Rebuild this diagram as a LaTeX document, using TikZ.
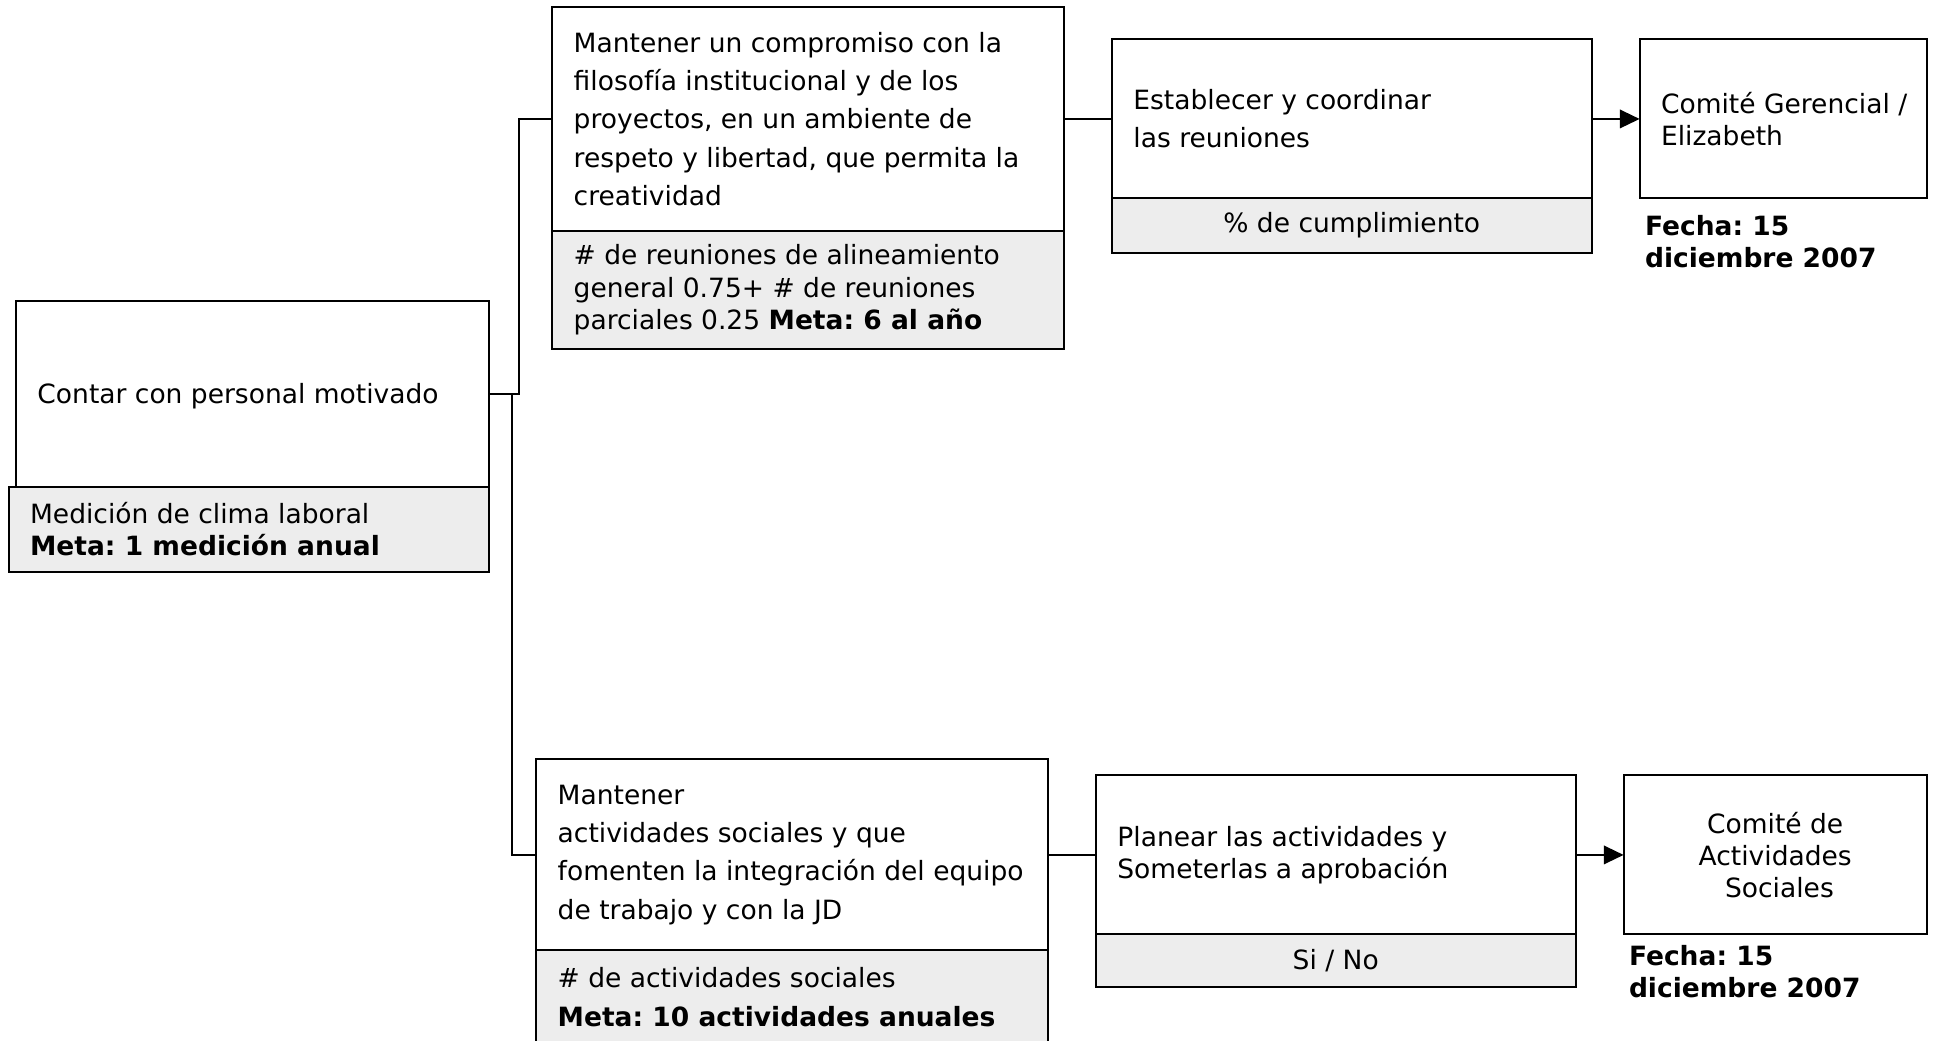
\documentclass[tikz,border=0pt]{standalone}
\usepackage{fontspec}
\setmainfont{DejaVu Sans}
\usetikzlibrary{arrows.meta}
\definecolor{indgray}{RGB}{237,237,237}
\frenchspacing

\begin{document}
\begin{tikzpicture}[x=0.5pt,y=-0.5pt,
	box/.style={draw,line width=0.8pt,fill=white,anchor=north west,inner sep=0pt,outer sep=0pt},
	ind/.style={box,fill=indgray,align=center,font=\fontsize{10.75}{13}\selectfont},
	txt/.style={anchor=west,inner sep=0pt,align=left,font=\fontsize{10.75}{15.5}\selectfont},
	txtind/.style={txt,font=\fontsize{10.75}{13}\selectfont},
	fecha/.style={txt,font=\bfseries\fontsize{10.75}{13}\selectfont},
	link/.style={line width=0.8pt},
	arr/.style={link,-{Triangle[length=8pt,width=7.5pt]}}]
	\useasboundingbox (0,0) rectangle (1568,844);
	\clip (0,0) rectangle (1568,844);
	
	% Objective
	\node[box,minimum width=192pt,minimum height=75.5pt] (obj) at (13,244) {};
	\node[txt] (objtxt) at ([xshift=8.5pt,yshift=-1pt]obj.west) {Contar con personal motivado};
	\node[ind,minimum width=195pt,minimum height=34.5pt] (objind) at (7,395) {};
	\node[txtind] (objindtxt) at ([xshift=8.5pt]objind.west) {Medición de clima laboral\\\textbf{Meta: 1 medición anual}};
	
	% Upper branch
	\node[box,minimum width=207.5pt,minimum height=90.5pt] (goal1) at (448,6) {};
	\node[txt] (goal1txt) at ([xshift=8.5pt]goal1.west) {Mantener un compromiso con la\\filosofía institucional y de los\\proyectos, en un ambiente de\\respeto y libertad, que permita la\\creatividad};
	\node[ind,minimum width=207.5pt,minimum height=48pt] (goal1ind) at (goal1.south west) {};
	\node[txtind] (goal1indtxt) at ([xshift=8.5pt]goal1ind.west) {\# de reuniones de alineamiento\\general 0.75+ \# de reuniones\\parciales 0.25 \textbf{Meta: 6 al año}};
	
	\node[box,minimum width=194.5pt,minimum height=64.5pt] (act1) at (902,32) {};
	\node[txt] (act1txt) at ([xshift=8.5pt]act1.west) {Establecer y coordinar\\las reuniones};
	\node[ind,minimum width=194.5pt,minimum height=22pt] (act1ind) at (act1.south west) {\% de cumplimiento};
	
	\node[box,minimum width=116.5pt,minimum height=64.5pt] (resp1) at (1330,32) {};
	\node[txtind] (resp1txt) at ([xshift=8.5pt]resp1.west) {Comité Gerencial /\\Elizabeth};
	\node[fecha] (date1) at (1334,196) {Fecha: 15\\diciembre 2007};
	
	% Lower branch
	\node[box,minimum width=207.5pt,minimum height=77.5pt] (goal2) at (435,616) {};
	\node[txt] (goal2txt) at ([xshift=8.5pt]goal2.west) {Mantener\\actividades sociales y que\\fomenten la integración del equipo\\de trabajo y con la JD};
	\node[ind,minimum width=207.5pt,minimum height=38pt] (goal2ind) at (goal2.south west) {};
	\node[txt,font=\fontsize{10.75}{16}\selectfont] (goal2indtxt) at ([xshift=8.5pt]goal2ind.west) {\# de actividades sociales\\\textbf{Meta: 10 actividades anuales}};
	
	\node[box,minimum width=194.5pt,minimum height=64.5pt] (act2) at (889,629) {};
	\node[txtind] (act2txt) at ([xshift=8.5pt]act2.west) {Planear las actividades y\\Someterlas a aprobación};
	\node[ind,minimum width=194.5pt,minimum height=21.5pt] (act2ind) at (act2.south west) {Si / No};
	
	\node[box,minimum width=123pt,minimum height=64.5pt,align=center,font=\fontsize{10.75}{13}\selectfont] (resp2) at (1317,629) {Comité de\\Actividades\\\ Sociales};
	\node[fecha] (date2) at (1321,788) {Fecha: 15\\diciembre 2007};
	
	% Links
	\draw[link] (obj.east) -- ++(12pt,0) |- (goal1.west);
	\draw[link] (obj.east) -- ++(9pt,0) |- (goal2.west);
	\draw[link] (goal1.east) -- (act1.west);
	\draw[arr] (act1.east) -- (resp1.west);
	\draw[link] (goal2.east) -- (act2.west);
	\draw[arr] (act2.east) -- (resp2.west);
\end{tikzpicture}
\end{document}
